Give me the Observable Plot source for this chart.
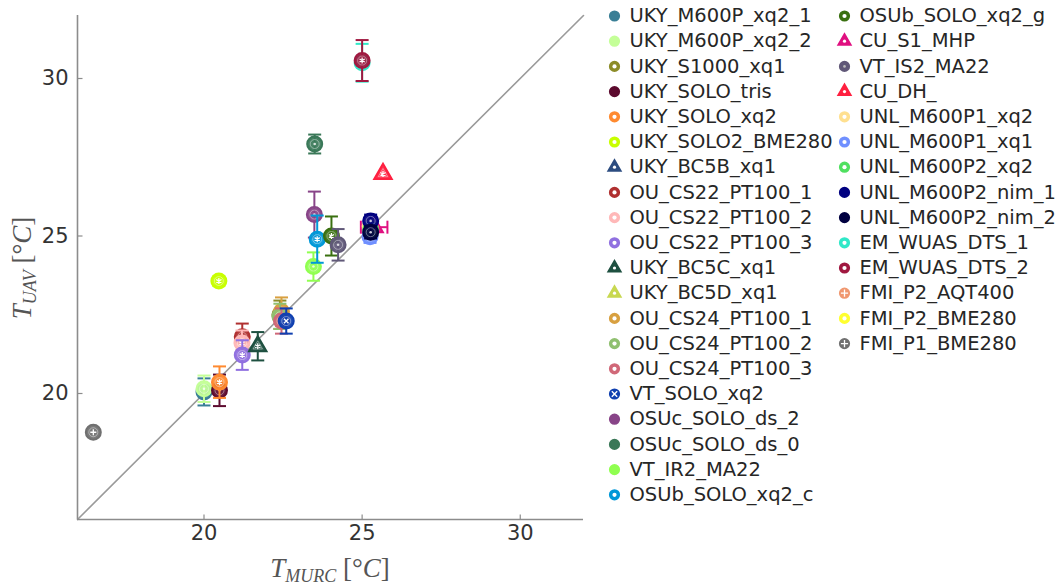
<!DOCTYPE html>
<html>
<head>
<meta charset="utf-8">
<script src="https://cdn.jsdelivr.net/npm/d3@7"></script>
<script src="https://cdn.jsdelivr.net/npm/@observablehq/plot@0.6"></script>
<style>
  html, body { margin: 0; padding: 0; background: #fff; }
  #wrap { position: relative; width: 1063px; height: 585px; overflow: hidden; background: #fff; }
  #wrap svg { position: absolute; top: 0; }
</style>
</head>
<body>
<div id="wrap"></div>
<script>
// ---------------- data ----------------
const names = [
  "UKY_M600P_xq2_1", "UKY_M600P_xq2_2", "UKY_S1000_xq1", "UKY_SOLO_tris", "UKY_SOLO_xq2",
  "UKY_SOLO2_BME280", "UKY_BC5B_xq1", "OU_CS22_PT100_1", "OU_CS22_PT100_2", "OU_CS22_PT100_3",
  "UKY_BC5C_xq1", "UKY_BC5D_xq1", "OU_CS24_PT100_1", "OU_CS24_PT100_2", "OU_CS24_PT100_3",
  "VT_SOLO_xq2", "OSUc_SOLO_ds_2", "OSUc_SOLO_ds_0", "VT_IR2_MA22", "OSUb_SOLO_xq2_c",
  "OSUb_SOLO_xq2_g", "CU_S1_MHP", "VT_IS2_MA22", "CU_DH_", "UNL_M600P1_xq2",
  "UNL_M600P1_xq1", "UNL_M600P2_xq2", "UNL_M600P2_nim_1", "UNL_M600P2_nim_2", "EM_WUAS_DTS_1",
  "EM_WUAS_DTS_2", "FMI_P2_AQT400", "FMI_P2_BME280", "FMI_P1_BME280"
];
// reference (MURC) temperature, °C  (null = not visible)
const tMurc = [
  20.0, 20.0, 22.4, 20.49, 20.49,
  20.47, null, 21.21, 21.2, 21.21,
  21.7, null, 22.45, 22.4, 22.45,
  22.6, 23.49, 23.5, 23.46, 23.58,
  24.03, 25.38, 24.24, 25.66, 25.25,
  25.25, 25.27, 25.27, 25.27, 25.0,
  25.0, null, null, 16.5
];
// UAV temperature, °C
const tUav = [
  20.05, 20.15, 22.5, 20.1, 20.36,
  23.57, null, 21.8, 21.6, 21.22,
  21.5, null, 22.6, 22.45, 22.3,
  22.3, 25.68, 27.92, 24.03, 24.9,
  25.0, 25.28, 24.72, 26.97, 25.3,
  24.98, 25.2, 25.48, 25.12, 30.5,
  30.57, null, null, 18.77
];
// vertical (UAV) error half-width
const uavErr = [
  0.43, 0.42, 0.45, 0.5, 0.5,
  0.15, 0, 0.42, 0.4, 0.47,
  0.45, 0, 0.45, 0.4, 0.4,
  0.4, 0.73, 0.3, 0.45, 0.75,
  0.62, 0, 0.5, 0, 0.2,
  0.2, 0.2, 0.2, 0.2, 0.6,
  0.65, 0, 0, 0
];
// horizontal (MURC) error half-width
const murcErr = [
  0, 0, 0, 0, 0,
  0, 0, 0, 0, 0,
  0, 0, 0, 0, 0,
  0, 0, 0, 0, 0,
  0, 0.42, 0, 0, 0,
  0, 0, 0, 0, 0,
  0, 0, 0, 0
];
const colors = [
  "#3a7f96", "#c4ff98", "#8c8c28", "#5c0a2e", "#ff8a30",
  "#c8ff00", "#2c4c80", "#b03030", "#ffb8b8", "#9070e0",
  "#1e5040", "#c8d850", "#d8a040", "#90c070", "#d06878",
  "#1040b0", "#884488", "#3a7858", "#90ff50", "#0098d8",
  "#3a7010", "#e01080", "#605878", "#ff2040", "#ffe090",
  "#7090ff", "#50e060", "#000080", "#000040", "#30e8c8",
  "#a01840", "#f09870", "#ffff30", "#707070"
];
const shapes = [
  "circle", "circle", "circle", "circle", "circle",
  "circle", "triangle", "circle", "circle", "circle",
  "triangle", "triangle", "circle", "circle", "circle",
  "circle", "circle", "circle", "circle", "circle",
  "circle", "triangle", "circle", "triangle", "circle",
  "circle", "circle", "circle", "circle", "circle",
  "circle", "circle", "circle", "circle"
];
// white mark at the centre of each marker
const centers = [
  "none", "none", "ring", "none", "ring",
  "ring", "ring", "ring", "ring", "ring",
  "ring", "ring", "ring", "ring", "ring",
  "times", "none", "none", "none", "ring",
  "ring", "ring", "dot", "ring", "ring",
  "ring", "ring", "none", "none", "ring",
  "ring", "plus", "ring", "plus"
];
const xTicks = [20, 25, 30];
const yTicks = [20, 25, 30];
const axisDomain = [16, 32];
const diag = [16, 32];
const legendRows = 20;

// ---------------- custom symbols ----------------
const rad = s => Math.sqrt(s / Math.PI);
const capH = {draw(c, s) { const r = rad(s); c.moveTo(-r, 0); c.lineTo(r, 0); }};
const capV = {draw(c, s) { const r = rad(s); c.moveTo(0, -r); c.lineTo(0, r); }};
const tickUp = {draw(c, s) { const r = rad(s); c.moveTo(0, 0); c.lineTo(0, -r); }};
const tickRight = {draw(c, s) { const r = rad(s); c.moveTo(0, 0); c.lineTo(r, 0); }};
const plusSym = {draw(c, s) { const r = rad(s); c.moveTo(-r, 0); c.lineTo(r, 0); c.moveTo(0, -r); c.lineTo(0, r); }};
const timesSym = {draw(c, s) { const r = rad(s) * 0.75; c.moveTo(-r, -r); c.lineTo(r, r); c.moveTo(-r, r); c.lineTo(r, -r); }};
const starSym = {draw(c, s) { const r = rad(s);
  for (let k = 0; k < 3; k++) { const a = Math.PI / 2 + k * Math.PI / 3;
    c.moveTo(-r * Math.cos(a), -r * Math.sin(a)); c.lineTo(r * Math.cos(a), r * Math.sin(a)); } }};

const rows = names.map((n, i) => ({
  name: n, x: tMurc[i], y: tUav[i], ey: uavErr[i], ex: murcErr[i],
  color: colors[i], shape: shapes[i], center: centers[i],
  col: i < legendRows ? 0 : 1, row: i < legendRows ? i : i - legendRows
}));
const plotted = rows.filter(d => d.x != null && d.y != null);

const axisColor = "#8c8c8c";
const labelColor = "#333333";

// ---------------- main chart ----------------
const marks = [
  Plot.line(diag, {x: d => d, y: d => d, stroke: "#9a9a9a", strokeWidth: 1.6}),
  Plot.ruleX([axisDomain[0]], {stroke: axisColor, strokeWidth: 1.6}),
  Plot.ruleY([axisDomain[0]], {stroke: axisColor, strokeWidth: 1.6}),
  Plot.dot(xTicks, {x: d => d, y: axisDomain[0], symbol: tickUp, r: 5, stroke: axisColor, strokeWidth: 1.2}),
  Plot.dot(yTicks, {x: axisDomain[0], y: d => d, symbol: tickRight, r: 5, stroke: axisColor, strokeWidth: 1.2}),
  Plot.axisX({ticks: xTicks, tickSize: 0, tickPadding: 6, fontSize: 21, fill: labelColor, label: null}),
  Plot.axisY({ticks: yTicks, tickSize: 0, tickPadding: 9, fontSize: 21, fill: labelColor, label: null})
];

for (const d of plotted) {
  if (d.ey > 0) {
    marks.push(Plot.ruleX([d], {x: "x", y1: p => p.y - p.ey, y2: p => p.y + p.ey, stroke: d.color, strokeWidth: 2}));
    marks.push(Plot.dot([-1, 1].map(s => ({x: d.x, y: d.y + s * d.ey})), {x: "x", y: "y", symbol: capH, r: 6.5, stroke: d.color, strokeWidth: 2, fill: "none"}));
  }
  if (d.ex > 0) {
    marks.push(Plot.ruleY([d], {y: "y", x1: p => p.x - p.ex, x2: p => p.x + p.ex, stroke: d.color, strokeWidth: 2}));
    marks.push(Plot.dot([-1, 1].map(s => ({x: d.x + s * d.ex, y: d.y})), {x: "x", y: "y", symbol: capV, r: 6.5, stroke: d.color, strokeWidth: 2, fill: "none"}));
  }
  marks.push(Plot.dot([d], {x: "x", y: "y", r: d.shape === "triangle" ? 6.5 : 7.5, symbol: d.shape, fill: d.color, stroke: d.color, strokeWidth: 2, fillOpacity: 0.92}));
  marks.push(Plot.dot([d], {x: "x", y: "y", r: d.shape === "triangle" ? 3.5 : 4.5, symbol: d.shape, fill: "none", stroke: "white", strokeOpacity: 0.4, strokeWidth: 1}));
  const csym = d.center === "plus" ? plusSym : d.center === "times" ? timesSym : d.center === "ring" ? starSym : null;
  if (csym) marks.push(Plot.dot([d], {x: "x", y: "y", r: 3, symbol: csym, stroke: "white", strokeWidth: 1.3, fill: "none"}));
  else marks.push(Plot.dot([d], {x: "x", y: "y", r: 1.3, fill: "white", fillOpacity: 0.8}));
}

const chart = Plot.plot({
  width: 600, height: 585,
  marginLeft: 77, marginRight: 17, marginTop: 15, marginBottom: 66,
  x: {domain: axisDomain},
  y: {domain: axisDomain},
  style: {fontFamily: "DejaVu Sans, sans-serif", background: "white", overflow: "visible"},
  marks
});
chart.style.left = "0px";

// axis labels with LaTeX-like sub-scripts
const svg = d3.select(chart);
function texLabel(g, sub) {
  g.attr("fill", "#555").style("font-family", "Liberation Serif, DejaVu Serif, serif").attr("text-anchor", "middle");
  g.append("tspan").attr("font-style", "italic").attr("font-size", 27).text("T");
  g.append("tspan").attr("font-style", "italic").attr("font-size", 18).attr("dy", 5).text(sub);
  g.append("tspan").attr("font-size", 27).attr("dy", -5).text(" [°");
  g.append("tspan").attr("font-size", 27).attr("font-style", "italic").text("C");
  g.append("tspan").attr("font-size", 27).text("]");
}
texLabel(svg.append("text").attr("x", 330).attr("y", 577), "MURC");
texLabel(svg.append("text").attr("transform", "translate(31,268) rotate(-90)"), "UAV");

// ---------------- legend ----------------
const legMarks = [];
for (const d of rows) {
  legMarks.push(Plot.dot([d], {x: "col", y: "row", r: d.shape === "triangle" ? 4.5 : 4.6, symbol: d.shape, fill: d.color, stroke: d.color, strokeWidth: 2}));
  if (d.center === "ring") legMarks.push(Plot.dot([d], {x: "col", y: "row", r: d.shape === "triangle" ? 1.6 : 2.1, fill: "white"}));
  if (d.center === "dot") legMarks.push(Plot.dot([d], {x: "col", y: "row", r: 1.3, fill: "#bbbbbb"}));
  if (d.center === "plus") legMarks.push(Plot.dot([d], {x: "col", y: "row", r: 3.6, symbol: plusSym, stroke: "white", strokeWidth: 1.3}));
  if (d.center === "times") legMarks.push(Plot.dot([d], {x: "col", y: "row", r: 3.6, symbol: timesSym, stroke: "white", strokeWidth: 1.4}));
}
legMarks.push(Plot.text(rows, {x: "col", y: "row", text: "name", dx: 15, textAnchor: "start", fontSize: 19.5, fill: "#262626"}));

const legend = Plot.plot({
  width: 463, height: 585, margin: 0,
  x: {domain: [0, 1], range: [14, 244], axis: null},
  y: {domain: [0, legendRows - 1], range: [15.5, 15.5 + (legendRows - 1) * 25.2], axis: null},
  style: {fontFamily: "DejaVu Sans, sans-serif", background: "transparent", overflow: "visible"},
  marks: legMarks
});
legend.style.left = "600px";

const wrap = document.getElementById("wrap");
wrap.appendChild(chart);
wrap.appendChild(legend);
</script>
</body>
</html>
